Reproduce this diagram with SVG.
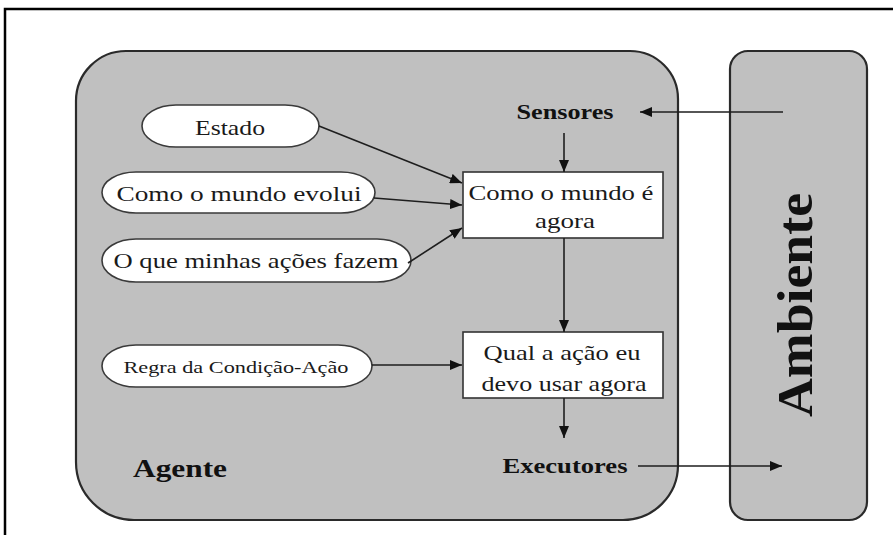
<svg xmlns="http://www.w3.org/2000/svg" width="893" height="535" viewBox="0 0 893 535">
<style>
.frame{fill:none;stroke:#000;stroke-width:2.5}
.panel{fill:#c0c0c0;stroke:#2a2a2a;stroke-width:2.2}
.pill{fill:#fff;stroke:#3a3a3a;stroke-width:1.6}
.box{fill:#fff;stroke:#333;stroke-width:1.6}
.t{font-family:"Liberation Serif","Times New Roman",serif;fill:#1a1a1a;text-anchor:middle}
.b{font-family:"Liberation Serif","Times New Roman",serif;font-weight:bold;fill:#111;text-anchor:middle}
.c{fill:none;stroke:#1e1e1e;stroke-width:1.6;marker-end:url(#ah)}
</style>
<defs>
<marker id="ah" markerUnits="userSpaceOnUse" markerWidth="12" markerHeight="10" refX="12" refY="5" orient="auto">
<path d="M0,0 L12,5 L0,10 z" fill="#111"/>
</marker>
</defs>
<rect width="893" height="535" fill="#fff"/>
<path class="frame" d="M5,535 L5,9 L893,9"/>

<g id="agente">
<path class="panel" d="M126,51 L630,51 A48,48 0 0 1 678,99 L678,465 A55,55 0 0 1 623,520 L134,520 A58,58 0 0 1 76,462 L76,101 A50,50 0 0 1 126,51 Z"/>
<text class="b" x="180" y="477" font-size="25" textLength="94" lengthAdjust="spacingAndGlyphs">Agente</text>
</g>

<g id="ambiente">
<rect class="panel" x="730" y="51" width="137" height="469" rx="18" ry="18"/>
<text class="b" transform="translate(812,305) rotate(-90)" x="0" y="0" font-size="50" textLength="224" lengthAdjust="spacingAndGlyphs">Ambiente</text>
</g>

<g id="sensores">
<text class="b" x="565" y="119" font-size="20" textLength="97" lengthAdjust="spacingAndGlyphs">Sensores</text>
</g>

<g id="executores">
<text class="b" x="565" y="473" font-size="22" textLength="125" lengthAdjust="spacingAndGlyphs">Executores</text>
</g>

<g id="estado">
<rect class="pill" x="142" y="105" width="177" height="42" rx="34" ry="21"/>
<text class="t" x="230" y="135" font-size="22" textLength="70" lengthAdjust="spacingAndGlyphs">Estado</text>
</g>

<g id="como-evolui">
<rect class="pill" x="102" y="172" width="273" height="41" rx="34" ry="20.5"/>
<text class="t" x="239" y="201" font-size="22" textLength="245" lengthAdjust="spacingAndGlyphs">Como o mundo evolui</text>
</g>

<g id="acoes-fazem">
<rect class="pill" x="102" y="239" width="309" height="43" rx="34" ry="21.5"/>
<text class="t" x="256" y="268" font-size="22" textLength="285" lengthAdjust="spacingAndGlyphs">O que minhas ações fazem</text>
</g>

<g id="regra">
<rect class="pill" x="102" y="345" width="270" height="42" rx="34" ry="21"/>
<text class="t" x="236" y="373" font-size="17" textLength="225" lengthAdjust="spacingAndGlyphs">Regra da Condição-Ação</text>
</g>

<g id="mundo-agora">
<rect class="box" x="463" y="172" width="200" height="66"/>
<text class="t" x="561" y="200" font-size="22" textLength="185" lengthAdjust="spacingAndGlyphs">Como o mundo é</text>
<text class="t" x="565" y="228" font-size="22" textLength="60" lengthAdjust="spacingAndGlyphs">agora</text>
</g>

<g id="qual-acao">
<rect class="box" x="463" y="332" width="200" height="66"/>
<text class="t" x="562" y="360" font-size="22" textLength="157" lengthAdjust="spacingAndGlyphs">Qual a ação eu</text>
<text class="t" x="564" y="391" font-size="22" textLength="165" lengthAdjust="spacingAndGlyphs">devo usar agora</text>
</g>

<g id="connectors">
<line class="c" x1="783" y1="112" x2="640" y2="112"/>
<line class="c" x1="564" y1="133" x2="564" y2="172"/>
<line class="c" x1="319" y1="126" x2="462" y2="183"/>
<line class="c" x1="374" y1="198" x2="462" y2="205"/>
<line class="c" x1="408" y1="263" x2="462" y2="228"/>
<line class="c" x1="564" y1="238" x2="564" y2="332"/>
<line class="c" x1="372" y1="365" x2="462" y2="365"/>
<line class="c" x1="564" y1="398" x2="564" y2="438"/>
<line class="c" x1="638" y1="466" x2="782" y2="466"/>
</g>
</svg>
